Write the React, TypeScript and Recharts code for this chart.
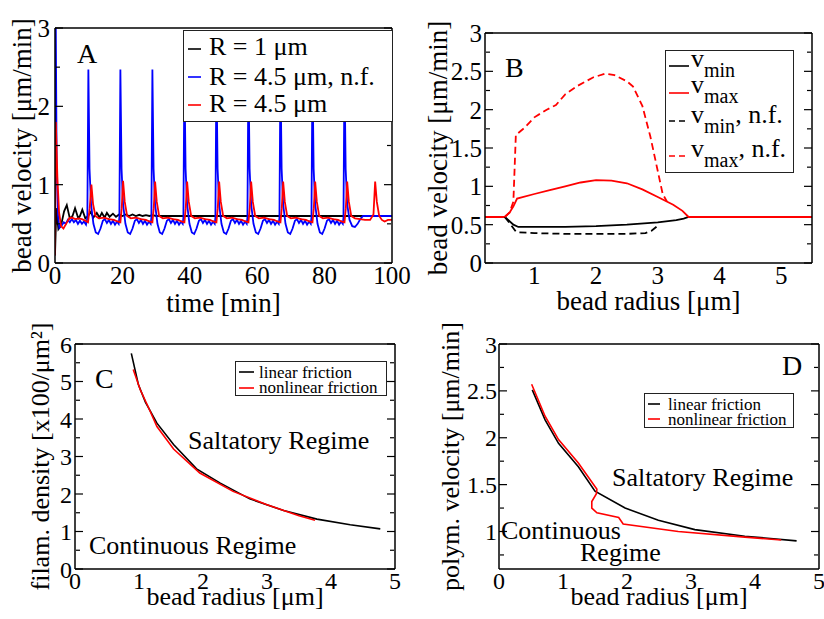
import React from 'react';
import { LineChart, Line, XAxis, YAxis, Legend } from 'recharts';

const serif = '"Liberation Serif", "Times New Roman", Times, serif';
const ink = '#000000';
const red = '#ff0000';
const blue = '#0000ff';

// ---------- panel A: bead velocity vs time ----------
const timeTicks = [0, 20, 40, 60, 80, 100];
const timeMinorTicks = [10, 30, 50, 70, 90];
const velTicksA = [0, 1, 2, 3];
const velMinorA = [0.5, 1.5, 2.5];
const namesA = ['R = 1 μm', 'R = 4.5 μm, n.f.', 'R = 4.5 μm'];

// [time (min), velocity (um/min)]
const velR1: [number, number][] = [
  [0, 0.1], [0.4, 0.7], [1.0, 0.43], [1.8, 0.48], [2.7, 0.66], [3.5, 0.74], [4.4, 0.57], [5.2, 0.6],
  [5.95, 0.7], [6.9, 0.57], [7.4, 0.6], [8.1, 0.68], [9.0, 0.57], [9.8, 0.6], [10.6, 0.65], [11.4, 0.58],
  [12.4, 0.64], [13.2, 0.58], [13.9, 0.64], [14.7, 0.58], [15.4, 0.64], [16.2, 0.59], [17.2, 0.63],
  [18.1, 0.59], [19, 0.62], [20, 0.6], [21, 0.62], [22, 0.6], [23, 0.62], [24, 0.6], [25, 0.615],
  [26, 0.6], [27, 0.61], [28, 0.6], [29, 0.61], [30, 0.6], [100, 0.6],
];

const velR45nf: [number, number][] = [
  [0, 0.1], [0.15, 3.6], [0.5, 1.2], [0.9, 0.6], [1.3, 0.45], [2, 0.48], [2.6, 0.52], [3.2, 0.5],
  [3.8, 0.55], [4.4, 0.52], [5, 0.56], [5.6, 0.52], [6.2, 0.55], [6.8, 0.5], [7.4, 0.54], [8, 0.5],
  [8.6, 0.53], [9.2, 0.49],
  [9.6, 0.58], [9.9, 2.47], [10.25, 1.2], [10.7, 0.75], [11.4, 0.5], [12.1, 0.39], [12.8, 0.37],
  [13.5, 0.44], [14.2, 0.54], [14.8, 0.56], [15.4, 0.51], [16, 0.55], [16.6, 0.5], [17.2, 0.54],
  [17.8, 0.49], [18.4, 0.53], [18.9, 0.5],
  [19.1, 0.58], [19.4, 2.47], [19.75, 1.2], [20.2, 0.75], [20.9, 0.5], [21.6, 0.39], [22.3, 0.37],
  [23, 0.44], [23.7, 0.54], [24.3, 0.56], [24.9, 0.51], [25.5, 0.55], [26.1, 0.5], [26.7, 0.54],
  [27.3, 0.49], [27.9, 0.53], [28.4, 0.5],
  [28.6, 0.58], [28.9, 2.47], [29.25, 1.2], [29.7, 0.75], [30.4, 0.5], [31.1, 0.39], [31.8, 0.37],
  [32.5, 0.44], [33.2, 0.54], [33.8, 0.56], [34.4, 0.51], [35, 0.55], [35.6, 0.5], [36.2, 0.54],
  [36.8, 0.49], [37.4, 0.53], [37.9, 0.5],
  [38.1, 0.58], [38.4, 2.47], [38.75, 1.2], [39.2, 0.75], [39.9, 0.5], [40.6, 0.39], [41.3, 0.37],
  [42, 0.44], [42.7, 0.54], [43.3, 0.56], [43.9, 0.51], [44.5, 0.55], [45.1, 0.5], [45.7, 0.54],
  [46.3, 0.49], [46.9, 0.53], [47.4, 0.5],
  [47.6, 0.58], [47.9, 2.47], [48.25, 1.2], [48.7, 0.75], [49.4, 0.5], [50.1, 0.39], [50.8, 0.37],
  [51.5, 0.44], [52.2, 0.54], [52.8, 0.56], [53.4, 0.51], [54, 0.55], [54.6, 0.5], [55.2, 0.54],
  [55.8, 0.49], [56.4, 0.53], [56.9, 0.5],
  [57.1, 0.58], [57.4, 2.47], [57.75, 1.2], [58.2, 0.75], [58.9, 0.5], [59.6, 0.39], [60.3, 0.37],
  [61, 0.44], [61.7, 0.54], [62.3, 0.56], [62.9, 0.51], [63.5, 0.55], [64.1, 0.5], [64.7, 0.54],
  [65.3, 0.49], [65.9, 0.53], [66.4, 0.5],
  [66.6, 0.58], [66.9, 2.47], [67.25, 1.2], [67.7, 0.75], [68.4, 0.5], [69.1, 0.39], [69.8, 0.37],
  [70.5, 0.44], [71.2, 0.54], [71.8, 0.56], [72.4, 0.51], [73, 0.55], [73.6, 0.5], [74.2, 0.54],
  [74.8, 0.49], [75.4, 0.53], [75.9, 0.5],
  [76.1, 0.58], [76.4, 2.47], [76.75, 1.2], [77.2, 0.75], [77.9, 0.5], [78.6, 0.39], [79.3, 0.37],
  [80, 0.44], [80.7, 0.54], [81.3, 0.56], [81.9, 0.51], [82.5, 0.55], [83.1, 0.5], [83.7, 0.54],
  [84.3, 0.49], [84.9, 0.53], [85.4, 0.5],
  [85.6, 0.58], [85.9, 2.47], [86.25, 1.2], [86.7, 0.75], [87.4, 0.55], [88.2, 0.47], [89, 0.46],
  [89.8, 0.5], [90.6, 0.56], [91.4, 0.6], [92.5, 0.6], [100, 0.6],
];

const velR45: [number, number][] = [
  [0, 0.1], [0.25, 1.8], [0.7, 1.1], [1.2, 0.65], [1.8, 0.47], [2.5, 0.44], [3.3, 0.5], [4.2, 0.57],
  [5, 0.58], [6, 0.56], [7, 0.57], [8, 0.56], [9, 0.54], [9.8, 0.52], [10.3, 0.7], [10.8, 1.0],
  [11.3, 0.75], [12, 0.6], [13, 0.57], [14.5, 0.58], [16, 0.56], [17.5, 0.55], [18.5, 0.53], [19.4, 0.52],
  [19.8, 0.7], [20.2, 1.05], [20.7, 0.78], [21.4, 0.6], [22.5, 0.57], [24, 0.58], [25.5, 0.56], [27, 0.55],
  [28, 0.53], [28.9, 0.52], [29.3, 0.7], [29.7, 1.04], [30.2, 0.78], [30.9, 0.6], [32, 0.57], [33.5, 0.58],
  [35, 0.56], [36.5, 0.55], [37.5, 0.53], [38.4, 0.52], [38.8, 0.7], [39.2, 1.04], [39.7, 0.78], [40.4, 0.6],
  [41.5, 0.57], [43, 0.58], [44.5, 0.56], [46, 0.55], [47, 0.53], [47.9, 0.52], [48.3, 0.7], [48.7, 1.04],
  [49.2, 0.78], [49.9, 0.6], [51, 0.57], [52.5, 0.58], [54, 0.56], [55.5, 0.55], [56.5, 0.53], [57.4, 0.52],
  [57.8, 0.7], [58.2, 1.04], [58.7, 0.78], [59.4, 0.6], [60.5, 0.57], [62, 0.58], [63.5, 0.56], [65, 0.55],
  [66, 0.53], [66.9, 0.52], [67.3, 0.7], [67.7, 1.04], [68.2, 0.78], [68.9, 0.6], [70, 0.57], [71.5, 0.58],
  [73, 0.56], [74.5, 0.55], [75.5, 0.53], [76.4, 0.52], [76.8, 0.7], [77.2, 1.04], [77.7, 0.78], [78.4, 0.6],
  [79.5, 0.57], [81, 0.58], [82.5, 0.56], [84, 0.55], [85, 0.53], [85.9, 0.52], [86.3, 0.7], [86.7, 1.04],
  [87.2, 0.78], [87.9, 0.6], [89, 0.57], [90.5, 0.56], [92, 0.55], [93.5, 0.55], [94.5, 0.62], [95, 1.04],
  [95.5, 0.78], [96.2, 0.6], [97, 0.55], [97.8, 0.53], [98.8, 0.55], [100, 0.55],
];

// ---------- panel B: v_min / v_max vs bead radius ----------
const radiusTicksB = [1, 2, 3, 4, 5];
const radiusMinorB = [0.5, 1.5, 2.5, 3.5, 4.5, 5.5];
const velTicksB = [0, 0.5, 1, 1.5, 2, 2.5, 3];
const velMinorB = [0.25, 0.75, 1.25, 1.75, 2.25, 2.75];
const namesB = ['v_min', 'v_max', 'v_min, n.f.', 'v_max, n.f.'];

const vMin: [number, number][] = [
  [0.2, 0.6], [0.52, 0.6], [0.58, 0.56], [0.66, 0.5], [0.74, 0.47], [1.0, 0.47], [1.5, 0.47],
  [2.0, 0.48], [2.5, 0.5], [3.0, 0.53], [3.3, 0.56], [3.42, 0.58], [3.5, 0.6], [5.5, 0.6],
];
const vMax: [number, number][] = [
  [0.2, 0.6], [0.52, 0.6], [0.6, 0.66], [0.66, 0.74], [0.72, 0.84], [1.0, 0.9], [1.25, 0.95],
  [1.5, 1.0], [1.75, 1.05], [2.0, 1.08], [2.25, 1.075], [2.5, 1.04], [2.75, 0.96], [3.0, 0.86],
  [3.25, 0.76], [3.4, 0.68], [3.5, 0.6], [5.5, 0.6],
];
const vMinNf: [number, number][] = [
  [0.52, 0.6], [0.6, 0.52], [0.7, 0.41], [0.75, 0.4], [1.0, 0.39], [1.5, 0.38], [2.0, 0.38],
  [2.5, 0.38], [2.8, 0.39], [2.9, 0.42], [3.02, 0.5],
];
const vMaxNf: [number, number][] = [
  [0.52, 0.6], [0.6, 0.66], [0.66, 0.8], [0.7, 1.67], [0.85, 1.77], [1.0, 1.9], [1.2, 2.0],
  [1.35, 2.06], [1.5, 2.2], [1.7, 2.31], [1.95, 2.42], [2.15, 2.47], [2.3, 2.45], [2.5, 2.37],
  [2.6, 2.3], [2.75, 2.05], [2.88, 1.65], [3.0, 1.2], [3.08, 0.9], [3.15, 0.8],
];

// ---------- panel C: filament density threshold ----------
const radiusTicks = [0, 1, 2, 3, 4, 5];
const radiusMinor = [0.5, 1.5, 2.5, 3.5, 4.5];
const densTicks = [0, 1, 2, 3, 4, 5, 6];
const densMinor = [0.5, 1.5, 2.5, 3.5, 4.5, 5.5];
const namesCD = ['linear friction', 'nonlinear friction'];

const densLinear: [number, number][] = [
  [0.88, 5.75], [0.99, 4.92], [1.1, 4.45], [1.28, 3.89], [1.54, 3.32], [1.9, 2.67], [2.27, 2.29],
  [2.73, 1.87], [3.26, 1.56], [3.78, 1.33], [4.3, 1.18], [4.77, 1.07],
];
const densNonlinear: [number, number][] = [
  [0.91, 5.32], [1.02, 4.78], [1.15, 4.3], [1.28, 3.8], [1.54, 3.2], [1.95, 2.56], [2.47, 2.07],
  [2.99, 1.72], [3.5, 1.42], [3.75, 1.3],
];

// ---------- panel D: polymerisation velocity threshold ----------
const polyTicks = [1, 1.5, 2, 2.5, 3];
const polyMinor = [0.75, 1.25, 1.75, 2.25, 2.75];

const polyLinear: [number, number][] = [
  [0.52, 2.51], [0.72, 2.19], [0.93, 1.94], [1.24, 1.69], [1.5, 1.43], [1.97, 1.25], [2.49, 1.12],
  [3.06, 1.02], [3.84, 0.95], [4.65, 0.9],
];
const polyNonlinear: [number, number][] = [
  [0.51, 2.57], [0.72, 2.23], [0.93, 1.98], [1.24, 1.73], [1.53, 1.45], [1.52, 1.4], [1.45, 1.32],
  [1.45, 1.25], [1.53, 1.2], [1.87, 1.15], [1.94, 1.08], [2.8, 1.0], [3.84, 0.94], [4.41, 0.91],
];

const pts = (arr: [number, number][]) => arr.map(([x, y]) => ({ x, y }));

const noLabel = () => <g />;

type FrameProps = {
  xDomain: [number, number];
  yDomain: [number, number];
  xMajor: number[];
  xMinor: number[];
  yMajor: number[];
  yMinor: number[];
  tickFont: number;
  xGap: number;
  yGap: number;
  xTitle: string;
  yTitle: string;
  titleFont: number;
  xTitleOffset: number;
  yTitleOffset: number;
};

// box frame with inward ticks on all four sides, labels on bottom/left.
// axes need a size of at least 1px or recharts skips drawing them
function frameAxes(p: FrameProps) {
  const base = { type: 'number' as const, allowDataOverflow: true, interval: 0 as const };
  const frameLine = { stroke: ink, strokeWidth: 1.5 };
  const tickLine = { stroke: ink, strokeWidth: 1.2 };
  const tickText = { fill: ink, fontSize: p.tickFont, fontFamily: serif };
  const xs = { ...base, domain: p.xDomain, height: 1 };
  const ys = { ...base, domain: p.yDomain, width: 1 };
  return [
    <XAxis key="x" xAxisId="x" dataKey="x" {...xs} ticks={p.xMajor} axisLine={frameLine}
      tickLine={false} tickSize={0} tickMargin={p.xGap} tick={tickText}
      label={{ value: p.xTitle, position: 'bottom', offset: p.xTitleOffset, fill: ink,
        fontSize: p.titleFont, fontFamily: serif }} />,
    <XAxis key="xb1" xAxisId="xb1" {...xs} ticks={p.xMajor} mirror axisLine={false} tick={noLabel} tickSize={8} tickLine={tickLine} />,
    <XAxis key="xb2" xAxisId="xb2" {...xs} ticks={p.xMinor} mirror axisLine={false} tick={noLabel} tickSize={4} tickLine={tickLine} />,
    <XAxis key="xt1" xAxisId="xt1" orientation="top" {...xs} ticks={p.xMajor} mirror axisLine={frameLine} tick={noLabel} tickSize={8} tickLine={tickLine} />,
    <XAxis key="xt2" xAxisId="xt2" orientation="top" {...xs} ticks={p.xMinor} mirror axisLine={false} tick={noLabel} tickSize={4} tickLine={tickLine} />,
    <YAxis key="y" yAxisId="y" {...ys} ticks={p.yMajor} axisLine={frameLine}
      tickLine={false} tickSize={0} tickMargin={p.yGap} tick={tickText}
      label={{ value: p.yTitle, angle: -90, position: 'left', offset: p.yTitleOffset, fill: ink,
        fontSize: p.titleFont, fontFamily: serif, style: { textAnchor: 'middle' } }} />,
    <YAxis key="yl1" yAxisId="yl1" {...ys} ticks={p.yMajor} mirror axisLine={false} tick={noLabel} tickSize={8} tickLine={tickLine} />,
    <YAxis key="yl2" yAxisId="yl2" {...ys} ticks={p.yMinor} mirror axisLine={false} tick={noLabel} tickSize={4} tickLine={tickLine} />,
    <YAxis key="yr1" yAxisId="yr1" orientation="right" {...ys} ticks={p.yMajor} mirror axisLine={frameLine} tick={noLabel} tickSize={8} tickLine={tickLine} />,
    <YAxis key="yr2" yAxisId="yr2" orientation="right" {...ys} ticks={p.yMinor} mirror axisLine={false} tick={noLabel} tickSize={4} tickLine={tickLine} />,
  ];
}

type LegendLayout = {
  order: string[];
  w: number;
  h: number;
  font: number;
  rowTops: number[];
  lineYs: number[];
  sampleX: number;
  sampleW: number;
  textX: number;
  renderName?: (name: string) => React.ReactNode;
};

const makeLegend = (l: LegendLayout) => (props: any) => {
  const items = [...(props.payload || [])].sort((a: any, b: any) => l.order.indexOf(a.value) - l.order.indexOf(b.value));
  return (
    <div style={{ position: 'relative', width: l.w, height: l.h, border: '1.5px solid #222', background: '#fff',
      boxSizing: 'border-box', fontFamily: serif, fontSize: l.font, color: ink }}>
      {items.map((it: any, i: number) => (
        <React.Fragment key={i}>
          <svg style={{ position: 'absolute', left: l.sampleX, top: l.lineYs[i] - 2 }} width={l.sampleW} height={4}>
            <line x1={0} x2={l.sampleW} y1={2} y2={2} stroke={it.color} strokeWidth={1.6}
              strokeDasharray={it.payload && it.payload.strokeDasharray ? '6 4' : undefined} />
          </svg>
          <div style={{ position: 'absolute', left: l.textX, top: l.rowTops[i], lineHeight: 1, whiteSpace: 'nowrap' }}>
            {l.renderName ? l.renderName(it.value) : it.value}
          </div>
        </React.Fragment>
      ))}
    </div>
  );
};

const vName = (name: string) => {
  const m = name.match(/^v_(min|max)(.*)$/);
  if (!m) return name;
  return (
    <>
      v<span style={{ fontSize: 20, position: 'relative', top: 10 }}>{m[1]}</span>{m[2]}
    </>
  );
};

const Note = ({ x, y, size, children }: { x: number; y: number; size: number; children: React.ReactNode }) => (
  <div style={{ position: 'absolute', left: x, top: y, fontSize: size, lineHeight: 1, fontFamily: serif,
    whiteSpace: 'nowrap', color: ink }}>
    {children}
  </div>
);

const lineCommon = { xAxisId: 'x', yAxisId: 'y', dataKey: 'y', type: 'linear' as const, dot: false, activeDot: false, isAnimationActive: false };

export default function App() {
  return (
    <div style={{ position: 'absolute', left: 0, top: 0, width: 824, height: 619, background: '#fff', overflow: 'hidden', fontFamily: serif }}>
      <style>{`.recharts-wrapper svg text { font-family: ${serif} !important; }`}</style>
      {/* A */}
      <div style={{ position: 'absolute', left: 0, top: 0 }}>
        <LineChart width={412} height={330} margin={{ top: 28, right: 20, bottom: 66, left: 54 }}>
          {frameAxes({
            xDomain: [0, 100], yDomain: [0, 3], xMajor: timeTicks, xMinor: timeMinorTicks,
            yMajor: velTicksA, yMinor: velMinorA, tickFont: 25, xGap: 3, yGap: 5,
            xTitle: 'time [min]', yTitle: 'bead velocity [μm/min]', titleFont: 27,
            xTitleOffset: 29, yTitleOffset: 33,
          })}
          <Line {...lineCommon} data={pts(velR1)} name={namesA[0]} stroke={ink} strokeWidth={1.8} />
          <Line {...lineCommon} data={pts(velR45nf)} name={namesA[1]} stroke={blue} strokeWidth={1.8} />
          <Line {...lineCommon} data={pts(velR45)} name={namesA[2]} stroke={red} strokeWidth={1.8} />
          <Legend layout="vertical" align="center" verticalAlign="middle"
            wrapperStyle={{ left: 183, top: 30, width: 210, height: 92 }}
            content={makeLegend({ order: namesA, w: 210, h: 92, font: 26, rowTops: [3, 33, 60], lineYs: [18, 46, 74],
              sampleX: 4, sampleW: 13, textX: 25 })} />
        </LineChart>
      </div>

      {/* B */}
      <div style={{ position: 'absolute', left: 412, top: 0 }}>
        <LineChart width={412} height={330} margin={{ top: 33, right: 12, bottom: 66, left: 72 }}>
          {frameAxes({
            xDomain: [0.2, 5.5], yDomain: [0, 3], xMajor: radiusTicksB, xMinor: radiusMinorB,
            yMajor: velTicksB, yMinor: velMinorB, tickFont: 25, xGap: 3, yGap: 3,
            xTitle: 'bead radius [μm]', yTitle: 'bead velocity [μm/min]', titleFont: 27,
            xTitleOffset: 27, yTitleOffset: 47,
          })}
          <Line {...lineCommon} data={pts(vMin)} name={namesB[0]} stroke={ink} strokeWidth={1.8} />
          <Line {...lineCommon} data={pts(vMax)} name={namesB[1]} stroke={red} strokeWidth={1.8} />
          <Line {...lineCommon} data={pts(vMinNf)} name={namesB[2]} stroke={ink} strokeWidth={1.8} strokeDasharray="7 4" />
          <Line {...lineCommon} data={pts(vMaxNf)} name={namesB[3]} stroke={red} strokeWidth={1.8} strokeDasharray="7 4" />
          <Legend layout="vertical" align="center" verticalAlign="middle"
            wrapperStyle={{ left: 253, top: 50, width: 129, height: 123 }}
            content={makeLegend({ order: namesB, w: 129, h: 123, font: 26, rowTops: [-5, 21, 51, 85], lineYs: [15, 42, 70, 105],
              sampleX: 3, sampleW: 20, textX: 25, renderName: vName })} />
        </LineChart>
      </div>

      {/* C */}
      <div style={{ position: 'absolute', left: 0, top: 310 }}>
        <LineChart width={412} height={309} margin={{ top: 34, right: 17, bottom: 49, left: 74 }}>
          {frameAxes({
            xDomain: [0, 5], yDomain: [0, 6], xMajor: radiusTicks, xMinor: radiusMinor,
            yMajor: densTicks, yMinor: densMinor, tickFont: 24, xGap: 3, yGap: 3,
            xTitle: 'bead radius [μm]', yTitle: 'filam. density [x100/μm²]', titleFont: 26,
            xTitleOffset: 17, yTitleOffset: 34,
          })}
          <Line {...lineCommon} data={pts(densLinear)} name={namesCD[0]} stroke={ink} strokeWidth={1.6} />
          <Line {...lineCommon} data={pts(densNonlinear)} name={namesCD[1]} stroke={red} strokeWidth={1.6} />
          <Legend layout="vertical" align="center" verticalAlign="middle"
            wrapperStyle={{ left: 235, top: 51, width: 152, height: 35 }}
            content={makeLegend({ order: namesCD, w: 152, h: 35, font: 17, rowTops: [2, 17], lineYs: [10, 26],
              sampleX: 3, sampleW: 15, textX: 23 })} />
        </LineChart>
      </div>

      {/* D */}
      <div style={{ position: 'absolute', left: 412, top: 310 }}>
        <LineChart width={412} height={309} margin={{ top: 34, right: 5, bottom: 49, left: 86 }}>
          {frameAxes({
            xDomain: [0, 5], yDomain: [0.6, 3], xMajor: radiusTicks, xMinor: radiusMinor,
            yMajor: polyTicks, yMinor: polyMinor, tickFont: 24, xGap: 3, yGap: 2,
            xTitle: 'bead radius [μm]', yTitle: 'polym. velocity [μm/min]', titleFont: 26,
            xTitleOffset: 17, yTitleOffset: 48,
          })}
          <Line {...lineCommon} data={pts(polyLinear)} name={namesCD[0]} stroke={ink} strokeWidth={1.6} />
          <Line {...lineCommon} data={pts(polyNonlinear)} name={namesCD[1]} stroke={red} strokeWidth={1.6} />
          <Legend layout="vertical" align="center" verticalAlign="middle"
            wrapperStyle={{ left: 232, top: 83, width: 150, height: 35 }}
            content={makeLegend({ order: namesCD, w: 150, h: 35, font: 17, rowTops: [2, 17], lineYs: [10, 25],
              sampleX: 3, sampleW: 12, textX: 23 })} />
        </LineChart>
      </div>

      <Note x={77} y={40} size={28}>A</Note>
      <Note x={505} y={54} size={28}>B</Note>
      <Note x={95} y={365} size={28}>C</Note>
      <Note x={782} y={352} size={28}>D</Note>
      <Note x={188} y={428} size={26}>Saltatory Regime</Note>
      <Note x={89} y={533} size={26}>Continuous Regime</Note>
      <Note x={612} y={465} size={26}>Saltatory Regime</Note>
      <Note x={501} y={518} size={26}>Continuous</Note>
      <Note x={580} y={540} size={26}>Regime</Note>
    </div>
  );
}
